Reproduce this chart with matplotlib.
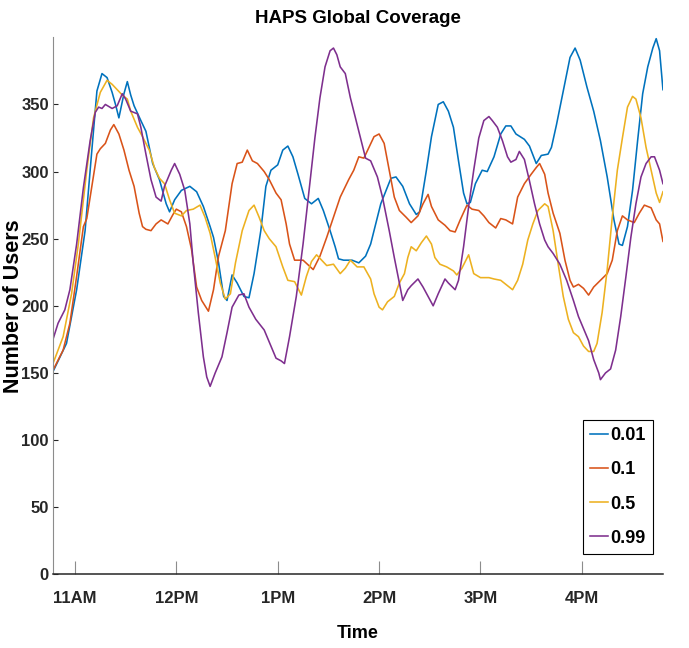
import pandas as pd
import matplotlib
matplotlib.use('Agg')
import matplotlib.pyplot as plt
import matplotlib.dates as mdates

# Users covered over the afternoon for four HAPS placement thresholds
day = "2021-06-01 "

t_001 = ["10:47", "10:55", "11:01", "11:06", "11:10", "11:13", "11:16", "11:19", "11:22", "11:24",
         "11:26", "11:29", "11:31", "11:33", "11:35", "11:39", "11:42", "11:46", "11:50", "11:54",
         "11:56", "11:59", "12:03", "12:08", "12:12", "12:16", "12:20", "12:22", "12:25", "12:28",
         "12:30", "12:33", "12:36", "12:40", "12:43", "12:46", "12:50", "12:53", "12:56", "13:00",
         "13:03", "13:06", "13:09", "13:12", "13:16", "13:20", "13:24", "13:27", "13:31", "13:34",
         "13:36", "13:39", "13:44", "13:48", "13:52", "13:55", "14:01", "14:07", "14:10", "14:14",
         "14:18", "14:22", "14:24", "14:28", "14:31", "14:35", "14:38", "14:41", "14:44", "14:47",
         "14:50", "14:52", "14:54", "14:57", "15:01", "15:04", "15:08", "15:12", "15:15", "15:18",
         "15:21", "15:26", "15:29", "15:33", "15:36", "15:40", "15:42", "15:45", "15:49", "15:53",
         "15:56", "15:59", "16:03", "16:07", "16:11", "16:15", "16:19", "16:22", "16:24", "16:27",
         "16:30", "16:33", "16:36", "16:39", "16:42", "16:44", "16:46", "16:48"]
users_001 = [151, 172, 212, 256, 316, 360, 373, 370, 359, 350,
             340, 358, 367, 357, 349, 338, 330, 306, 294, 276,
             270, 279, 286, 289, 285, 274, 259, 251, 232, 207,
             204, 223, 217, 207, 206, 224, 256, 289, 301, 305,
             316, 319, 311, 298, 280, 276, 280, 271, 256, 244,
             235, 234, 234, 232, 237, 246, 276, 295, 296, 289,
             276, 268, 270, 301, 326, 350, 352, 345, 333, 308,
             284, 276, 277, 291, 301, 300, 311, 328, 334, 334,
             328, 324, 319, 306, 312, 313, 318, 335, 360, 385,
             392, 383, 363, 345, 323, 296, 264, 246, 245, 259,
             286, 323, 358, 378, 392, 399, 390, 361]

t_01 = ["10:47", "10:53", "10:57", "11:01", "11:05", "11:07", "11:10", "11:13", "11:15", "11:18",
        "11:21", "11:23", "11:26", "11:29", "11:32", "11:35", "11:38", "11:40", "11:42", "11:45",
        "11:48", "11:51", "11:55", "11:58", "12:00", "12:03", "12:06", "12:09", "12:12", "12:15",
        "12:17", "12:19", "12:22", "12:25", "12:29", "12:33", "12:36", "12:39", "12:42", "12:45",
        "12:48", "12:52", "12:55", "12:59", "13:02", "13:05", "13:07", "13:10", "13:15", "13:21",
        "13:25", "13:29", "13:33", "13:37", "13:42", "13:45", "13:48", "13:51", "13:54", "13:57",
        "14:00", "14:03", "14:06", "14:09", "14:12", "14:16", "14:19", "14:23", "14:26", "14:29",
        "14:31", "14:35", "14:39", "14:42", "14:45", "14:48", "14:52", "14:55", "14:59", "15:02",
        "15:05", "15:09", "15:12", "15:15", "15:19", "15:22", "15:26", "15:30", "15:33", "15:35",
        "15:38", "15:40", "15:43", "15:47", "15:50", "15:53", "15:55", "15:58", "16:01", "16:04",
        "16:07", "16:11", "16:15", "16:18", "16:21", "16:24", "16:27", "16:31", "16:34", "16:37",
        "16:41", "16:44", "16:46", "16:48"]
users_01 = [152, 167, 187, 222, 259, 265, 289, 313, 317, 321,
            331, 335, 328, 316, 301, 289, 269, 259, 257, 256,
            261, 264, 261, 268, 272, 270, 259, 242, 214, 204,
            200, 196, 212, 237, 256, 291, 306, 307, 316, 308,
            306, 300, 294, 284, 279, 261, 246, 234, 234, 227,
            237, 251, 266, 281, 294, 301, 311, 310, 318, 326,
            328, 321, 301, 281, 271, 266, 262, 267, 276, 283,
            274, 264, 260, 256, 255, 264, 275, 272, 271, 267,
            262, 258, 265, 264, 261, 281, 291, 298, 303, 306,
            298, 284, 269, 254, 234, 219, 214, 216, 213, 208,
            214, 219, 224, 234, 256, 267, 264, 262, 269, 275,
            273, 264, 261, 248]

t_05 = ["10:47", "10:53", "10:58", "11:02", "11:07", "11:11", "11:15", "11:19", "11:22", "11:25",
        "11:28", "11:31", "11:33", "11:37", "11:40", "11:44", "11:47", "11:50", "11:53", "11:56",
        "11:59", "12:03", "12:06", "12:10", "12:14", "12:17", "12:20", "12:23", "12:26", "12:29",
        "12:32", "12:35", "12:39", "12:43", "12:46", "12:49", "12:52", "12:55", "12:59", "13:03",
        "13:06", "13:10", "13:14", "13:17", "13:20", "13:23", "13:26", "13:29", "13:33", "13:37",
        "13:40", "13:43", "13:47", "13:51", "13:55", "13:57", "14:00", "14:02", "14:05", "14:09",
        "14:12", "14:15", "14:17", "14:19", "14:22", "14:25", "14:28", "14:31", "14:33", "14:36",
        "14:40", "14:44", "14:46", "14:49", "14:53", "14:56", "15:00", "15:05", "15:08", "15:12",
        "15:16", "15:19", "15:22", "15:25", "15:28", "15:31", "15:34", "15:38", "15:40", "15:43",
        "15:46", "15:49", "15:52", "15:55", "15:58", "16:01", "16:04", "16:07", "16:09", "16:12",
        "16:15", "16:18", "16:21", "16:24", "16:27", "16:30", "16:32", "16:35", "16:38", "16:41",
        "16:44", "16:46", "16:48"]
users_05 = [157, 177, 209, 246, 301, 340, 359, 368, 365, 361,
            357, 354, 345, 333, 326, 316, 303, 295, 291, 279,
            269, 267, 271, 272, 275, 266, 254, 236, 217, 205,
            209, 232, 256, 271, 275, 266, 256, 250, 244, 229,
            219, 218, 208, 222, 233, 238, 234, 230, 231, 224,
            228, 234, 229, 229, 220, 209, 199, 197, 203, 207,
            217, 224, 236, 244, 241, 247, 252, 246, 236, 231,
            229, 226, 223, 228, 238, 224, 221, 221, 220, 219,
            215, 212, 219, 231, 249, 261, 271, 276, 274, 256,
            231, 207, 190, 180, 177, 170, 166, 166, 172, 195,
            227, 266, 301, 325, 348, 356, 354, 340, 318, 301,
            284, 277, 285]

t_099 = ["10:47", "10:50", "10:54", "10:57", "11:01", "11:05", "11:09", "11:12", "11:14", "11:16",
         "11:18", "11:22", "11:25", "11:28", "11:30", "11:33", "11:37", "11:39", "11:42", "11:45",
         "11:48", "11:51", "11:53", "11:57", "11:59", "12:02", "12:05", "12:08", "12:10", "12:13",
         "12:16", "12:18", "12:20", "12:23", "12:27", "12:30", "12:33", "12:37", "12:40", "12:43",
         "12:47", "12:52", "12:55", "12:59", "13:02", "13:04", "13:07", "13:11", "13:15", "13:19",
         "13:22", "13:25", "13:28", "13:31", "13:33", "13:35", "13:37", "13:40", "13:43", "13:46",
         "13:49", "13:52", "13:55", "13:59", "14:02", "14:06", "14:09", "14:12", "14:14", "14:17",
         "14:19", "14:23", "14:26", "14:29", "14:32", "14:35", "14:39", "14:41", "14:45", "14:47",
         "14:50", "14:53", "14:56", "14:59", "15:02", "15:05", "15:07", "15:10", "15:13", "15:16",
         "15:18", "15:21", "15:23", "15:26", "15:29", "15:32", "15:35", "15:38", "15:40", "15:43",
         "15:47", "15:51", "15:55", "15:58", "16:01", "16:04", "16:07", "16:10", "16:11", "16:14",
         "16:17", "16:20", "16:23", "16:26", "16:29", "16:32", "16:35", "16:38", "16:41", "16:43",
         "16:46", "16:48"]
users_099 = [175, 187, 197, 212, 246, 288, 323, 344, 348, 347,
             350, 347, 349, 358, 354, 345, 343, 333, 313, 294,
             281, 278, 289, 301, 306, 298, 286, 261, 232, 195,
             162, 147, 140, 150, 162, 180, 199, 208, 209, 199,
             190, 182, 173, 161, 159, 157, 177, 207, 246, 291,
             325, 355, 378, 390, 392, 387, 378, 373, 355, 340,
             325, 310, 308, 296, 281, 256, 236, 217, 204, 212,
             215, 220, 214, 207, 200, 209, 220, 217, 212, 219,
             244, 274, 301, 325, 338, 341, 338, 333, 323, 311,
             307, 309, 315, 309, 293, 276, 261, 249, 244, 239,
             231, 219, 204, 192, 183, 174, 160, 150, 145, 150,
             153, 167, 192, 221, 251, 276, 296, 306, 311, 311,
             301, 291]

labels = ["0.01", "0.1", "0.5", "0.99"]
colors = ["#0072BD", "#D95319", "#EDB120", "#7E2F8E"]
series = [(t_001, users_001), (t_01, users_01), (t_05, users_05), (t_099, users_099)]

plt.rcParams['font.family'] = ['Liberation Sans', 'DejaVu Sans']
plt.rcParams['font.weight'] = 'bold'

fig = plt.figure(figsize=(6.89, 6.48), dpi=100)
ax = fig.add_axes([0.0769, 0.1137, 0.8853, 0.8287])

for (ts, vals), lab, col in zip(series, labels, colors):
    times = pd.to_datetime([day + t for t in ts])
    ax.plot(times, vals, color=col, linewidth=1.15, label=lab)

ax.set_xlim(pd.Timestamp(day + t_001[0]), pd.Timestamp(day + t_001[-1]))
ax.set_ylim(0, 400)
ax.set_yticks(range(0, 351, 50))

ax.xaxis.set_major_locator(mdates.HourLocator())
ax.xaxis.set_major_formatter(mdates.DateFormatter('%-I%p'))

for side in ['top', 'right']:
    ax.spines[side].set_visible(False)
ax.spines['left'].set_color('#8c8c8c')
ax.spines['bottom'].set_color('#262626')
ax.spines['bottom'].set_linewidth(1.1)

ax.tick_params(axis='x', direction='in', length=9.5, width=0.8, color='#8c8c8c',
               pad=12, labelsize=12, labelcolor='#262626')
ax.tick_params(axis='y', direction='in', length=3.5, width=0.8, color='#262626',
               pad=3, labelsize=12, labelcolor='#262626')

ax.set_title('HAPS Global Coverage', fontsize=13.5, fontweight='bold', pad=10)
ax.set_xlabel('Time', fontsize=13, fontweight='bold', labelpad=14)
ax.set_ylabel('Number of Users', fontsize=15.5, fontweight='bold')
ax.yaxis.set_label_coords(-0.048, 0.5)

leg = ax.legend(loc='lower right', bbox_to_anchor=(0.9836, 0.0378), borderaxespad=0,
                fontsize=13, fancybox=False, framealpha=1, edgecolor='black',
                handlelength=1.0, handletextpad=0.12, labelspacing=0.95,
                borderpad=0.4)
leg.get_frame().set_linewidth(0.8)

fig.savefig('out.png', dpi=100)
